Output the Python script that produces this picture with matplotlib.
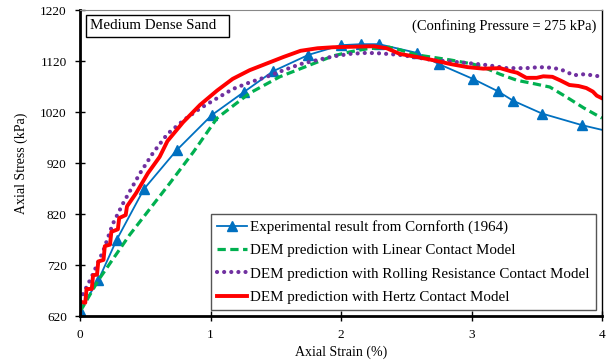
import matplotlib
matplotlib.use("Agg")
import matplotlib.pyplot as plt

plt.rcParams['font.family'] = ['Liberation Serif', 'DejaVu Serif']

# experimental result (Cornforth 1964)
exp_strain = [0.0, 0.14, 0.28, 0.49, 0.74, 1.01, 1.26, 1.48, 1.75, 2.0, 2.15, 2.29,
              2.58, 2.75, 3.01, 3.2, 3.32, 3.54, 3.85, 4.05]
exp_stress = [632, 690, 769, 869, 945, 1014, 1060, 1100, 1132, 1151, 1153, 1153,
              1136, 1114, 1085, 1061, 1042, 1017, 994, 982]

# DEM, linear contact model
lin_strain = [0.0, 0.02, 0.14, 0.38, 0.69, 0.87, 1.05, 1.30, 1.53, 1.76, 1.94, 2.07,
              2.2, 2.37, 2.45, 2.58, 2.84, 3.01, 3.09, 3.22, 3.35, 3.47, 3.6, 3.73,
              3.86, 4.0]
lin_stress = [630, 637, 690, 779, 881, 942, 1008, 1057, 1089, 1112, 1130, 1138,
              1144, 1147, 1142, 1132, 1122, 1114, 1108, 1094, 1082, 1076, 1069, 1049,
              1028, 1008]

# DEM, rolling resistance contact model
rr_strain = [0.0, 0.01, 0.09, 0.18, 0.25, 0.33, 0.40, 0.46, 0.56, 0.67, 0.80, 0.92,
             1.05, 1.17, 1.30, 1.43, 1.56, 1.69, 1.82, 1.94, 2.07, 2.2, 2.3, 2.45,
             2.58, 2.70, 2.84, 2.97, 3.12, 3.27, 3.42, 3.52, 3.6, 3.68, 3.75, 3.78,
             3.86, 3.93, 4.0]
rr_stress = [650, 657, 697, 749, 800, 841, 873, 900, 940, 977, 1005, 1027,
             1047, 1065, 1078, 1089, 1102, 1114, 1122, 1129, 1134, 1136, 1135, 1132,
             1127, 1122, 1119, 1116, 1112, 1106, 1106, 1108, 1107, 1104, 1096, 1092,
             1094, 1092, 1089]

# DEM, Hertz contact model
hz_strain = [0.0, 0.0, 0.04, 0.05, 0.09, 0.10, 0.13, 0.14, 0.18, 0.19, 0.23, 0.24,
             0.29, 0.30, 0.35, 0.36, 0.43, 0.52, 0.61, 0.67, 0.79, 0.92, 1.05, 1.17,
             1.30, 1.43, 1.56, 1.69, 1.82, 1.94, 2.1, 2.25, 2.35, 2.45, 2.58, 2.70,
             2.84, 2.97, 3.09, 3.22, 3.30, 3.35, 3.42, 3.5, 3.55, 3.62, 3.68, 3.75,
             3.82, 3.88, 3.93, 3.96, 4.0]
hz_stress = [620, 648, 646, 673, 673, 700, 701, 727, 730, 757, 760, 785,
             790, 812, 818, 835, 861, 900, 932, 963, 1000, 1034, 1062, 1085,
             1102, 1115, 1128, 1140, 1145, 1147, 1148, 1149, 1145, 1134, 1128, 1122,
             1114, 1108, 1105, 1106, 1100, 1097, 1087, 1087, 1090, 1089, 1082, 1073,
             1071, 1067, 1060, 1052, 1047]

labels = ['Experimental result from Cornforth (1964)',
          'DEM prediction with Linear Contact Model',
          'DEM prediction with Rolling Resistance Contact Model',
          'DEM prediction with Hertz Contact Model']

fig = plt.figure(figsize=(6.09, 3.6), dpi=100)
ax = fig.add_axes([0.1314, 0.1222, 0.8571, 0.85])

ax.plot(exp_strain, exp_stress, color='#0070C0', lw=1.3, marker='^', markersize=7,
        markevery=list(range(len(exp_strain) - 1)), label=labels[0])
ax.plot(lin_strain, lin_stress, color='#00B050', lw=2.3, linestyle=(0, (2.6, 1.4)),
        label=labels[1])
ax.plot(rr_strain, rr_stress, color='#7030A0', lw=3.0, linestyle=(0, (0.01, 1.7)),
        dash_capstyle='round', label=labels[2])
ax.plot(hz_strain, hz_stress, color='#FF0000', lw=2.8, label=labels[3])

ax.set_xlim(0, 4)
ax.set_ylim(620, 1220)
ax.set_xticks([0, 1, 2, 3, 4])
ax.set_yticks([620, 720, 820, 920, 1020, 1120, 1220])
ax.tick_params(direction='inout', length=7, width=1, labelsize=9.5, pad=6)
ax.tick_params(axis='y', pad=6)

ax.spines['left'].set_linewidth(2)
ax.spines['bottom'].set_linewidth(2)
ax.spines['top'].set_color('#888888')
ax.spines['top'].set_linewidth(0.8)
ax.spines['right'].set_linewidth(1)

ax.set_xlabel('Axial Strain (%)', fontsize=10, labelpad=3)
ax.set_ylabel('Axial Stress (kPa)', fontsize=10, labelpad=9)

ax.text(0.02, 0.97, 'Medium Dense Sand  ', transform=ax.transAxes, fontsize=10.8,
        va='top', ha='left',
        bbox=dict(boxstyle='square,pad=0.3', fc='white', ec='black', lw=1))
ax.text(0.99, 0.97, '(Confining Pressure = 275 kPa)', transform=ax.transAxes,
        fontsize=10.5, va='top', ha='right')

leg = ax.legend(loc='lower right', bbox_to_anchor=(0.9885, 0.02), borderaxespad=0,
                fontsize=10.8, fancybox=False, edgecolor='#555555', framealpha=1,
                handlelength=2.0, handletextpad=0.2, labelspacing=0.65,
                borderpad=0.4)
leg.get_frame().set_linewidth(1)

fig.savefig('out.png', dpi=100)
